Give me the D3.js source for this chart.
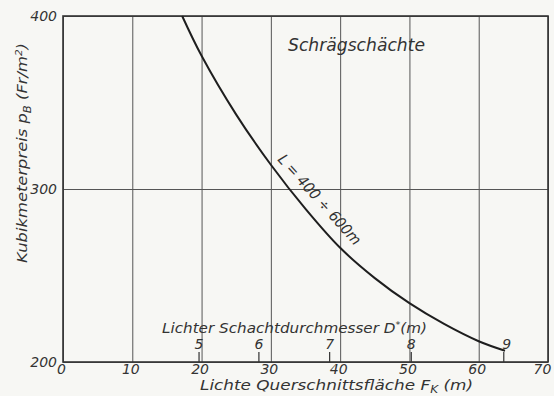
<!DOCTYPE html>
<html>
<head>
<meta charset="utf-8">
<script src="https://cdn.jsdelivr.net/npm/d3@7"></script>
<style>
  html, body { margin: 0; padding: 0; background: #f7f7f4; }
  svg { display: block; }
  text { font-family: "DejaVu Sans", "Liberation Sans", sans-serif; font-style: italic; fill: #333; }
</style>
</head>
<body>
<svg id="chart" width="554" height="396"></svg>
<script>
// Cost per cubic metre of inclined shafts vs. clear cross-section area
const areaTicks = [0, 10, 20, 30, 40, 50, 60, 70];
const priceTicks = [200, 300, 400];
const diameters = [5, 6, 7, 8, 9];               // clear shaft diameter D (m)
const curveArea = [17.2, 20, 25, 30, 35, 40, 45, 50, 55, 60, 63.8];            // F_K
const curvePrice = [400, 377, 343, 314, 288.5, 266, 248.5, 234, 222, 212, 206.5]; // p_B

const svg = d3.select("#chart");
const m = { left: 63, right: 548, top: 16, bottom: 362 };

const x = d3.scaleLinear().domain([0, 70]).range([m.left, m.right]);
const y = d3.scaleLinear().domain([200, 400]).range([m.bottom, m.top]);

const ink = "#333";

// vertical grid + x-axis labels
const xAxis = d3.axisBottom(x).tickValues(areaTicks).tickSize(-(m.bottom - m.top)).tickPadding(4).tickFormat(d3.format("d"));
const gx = svg.append("g").attr("transform", `translate(0,${m.bottom})`).call(xAxis);
gx.select(".domain").remove();
gx.selectAll(".tick line").attr("stroke", "#555").attr("stroke-width", 1);
gx.selectAll(".tick text").attr("font-size", 14).attr("fill", ink).attr("dy", "0.6em")
  .attr("dx", d => d === 70 ? -6 : -2)
  .attr("font-family", "DejaVu Sans").attr("font-style", "italic");

// horizontal grid + y-axis labels
const yAxis = d3.axisLeft(y).tickValues(priceTicks).tickSize(-(m.right - m.left)).tickPadding(6).tickFormat(d3.format("d"));
const gy = svg.append("g").attr("transform", `translate(${m.left},0)`).call(yAxis);
gy.select(".domain").remove();
gy.selectAll(".tick line").attr("stroke", "#555").attr("stroke-width", 1);
gy.selectAll(".tick text").attr("font-size", 14).attr("fill", ink)
  .attr("font-family", "DejaVu Sans").attr("font-style", "italic");

// frame
svg.append("rect")
  .attr("x", m.left).attr("y", m.top)
  .attr("width", m.right - m.left).attr("height", m.bottom - m.top)
  .attr("fill", "none").attr("stroke", "#333").attr("stroke-width", 1.6);

// diameter scale: ticks at F = π D² / 4
const gd = svg.append("g");
gd.selectAll("line").data(diameters).join("line")
  .attr("x1", d => x(Math.PI * d * d / 4)).attr("x2", d => x(Math.PI * d * d / 4))
  .attr("y1", m.bottom - 10).attr("y2", m.bottom)
  .attr("stroke", "#333").attr("stroke-width", 1.2);
gd.selectAll("text").data(diameters).join("text")
  .attr("x", d => x(Math.PI * d * d / 4) + (d === 9 ? 3 : 0)).attr("y", m.bottom - 13)
  .attr("text-anchor", "middle").attr("font-size", 14)
  .text(d => d);

const dLabel = svg.append("text").attr("x", 162).attr("y", 333).attr("font-size", 14)
  .attr("textLength", 265).attr("lengthAdjust", "spacingAndGlyphs");
dLabel.append("tspan").text("Lichter  Schachtdurchmesser  D");
dLabel.append("tspan").attr("dy", -5).attr("font-size", 9).text("*");
dLabel.append("tspan").attr("dy", 5).text("(m)");

// cost curve
const line = d3.line().x(d => x(d[0])).y(d => y(d[1])).curve(d3.curveCatmullRom.alpha(0.5));
svg.append("path")
  .datum(d3.zip(curveArea, curvePrice))
  .attr("d", line)
  .attr("fill", "none").attr("stroke", "#1e1e1e").attr("stroke-width", 2);

// curve label
svg.append("text")
  .attr("transform", "translate(277,160) rotate(48)")
  .attr("font-size", 15)
  .attr("textLength", 116).attr("lengthAdjust", "spacingAndGlyphs")
  .text("L = 400 ÷ 600m");

// title
svg.append("text").attr("x", 288).attr("y", 51).attr("font-size", 17)
  .attr("textLength", 137).attr("lengthAdjust", "spacingAndGlyphs")
  .text("Schrägschächte");

// x-axis title
const xt = svg.append("text").attr("x", 200).attr("y", 390).attr("font-size", 14)
  .attr("textLength", 273).attr("lengthAdjust", "spacingAndGlyphs");
xt.append("tspan").text("Lichte  Querschnittsfläche    F");
xt.append("tspan").attr("dy", 3).attr("font-size", 10).text("K");
xt.append("tspan").attr("dy", -3).text("  (m)");

// y-axis title
const yt = svg.append("text")
  .attr("transform", "translate(27,263) rotate(-90)")
  .attr("font-size", 14)
  .attr("textLength", 220).attr("lengthAdjust", "spacingAndGlyphs");
yt.append("tspan").text("Kubikmeterpreis   p");
yt.append("tspan").attr("dy", 4).attr("font-size", 10).text("B");
yt.append("tspan").attr("dy", -4).text("   (Fr/m");
yt.append("tspan").attr("dy", -5).attr("font-size", 9).text("2");
yt.append("tspan").attr("dy", 5).text(")");
</script>
</body>
</html>
